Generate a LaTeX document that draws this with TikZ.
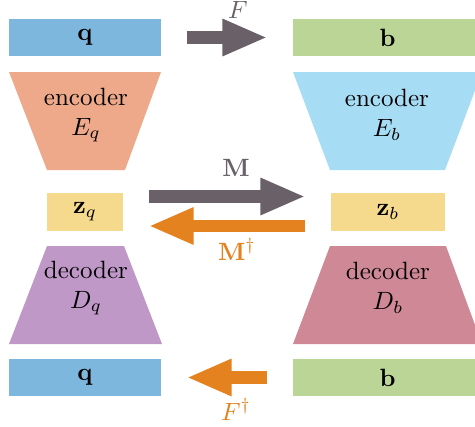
\documentclass[tikz,border=0pt]{standalone}
\usepackage{amsmath}
\usepackage{amssymb}
\usepackage{xcolor}
\usepackage{tikz}
\usetikzlibrary{arrows.meta}

\definecolor{qblue}{HTML}{7EB7DE}
\definecolor{bgreen}{HTML}{BBD597}
\definecolor{encq}{HTML}{EDA98A}
\definecolor{encb}{HTML}{A6DDF4}
\definecolor{zyellow}{HTML}{F5D98C}
\definecolor{decq}{HTML}{BF98C8}
\definecolor{decb}{HTML}{CF8896}
\definecolor{arrgray}{HTML}{6A6068}
\definecolor{arrorange}{HTML}{E3821F}

\begin{document}
\begin{tikzpicture}[
    x=0.4pt, y=-0.4pt,
    every box/.style={rectangle, inner sep=0pt, minimum height=15pt},
    q box/.style={every box, fill=qblue, minimum width=60.8pt},
    b box/.style={every box, fill=bgreen, minimum width=75.6pt},
    z box/.style={every box, fill=zyellow},
    coder text/.style={align=center, inner sep=0pt},
    fat arrow/.style={line width=5pt, -{Triangle[length=18pt, width=13.6pt]},
                      shorten <=10pt, shorten >=10pt},
    map label/.style={anchor=base, inner sep=0pt}
]
    \useasboundingbox (0,0) rectangle (475,427);
    \clip (0,0) rectangle (475,427);

    % input and output boxes
    \node[q box] (q-top) at (85,37.5) {$\mathbf{q}$};
    \node[b box] (b-top) at (387.5,37.5) {$\mathbf{b}$};
    \node[q box] (q-bot) at (85,377.5) {$\mathbf{q}$};
    \node[b box] (b-bot) at (387.5,377.5) {$\mathbf{b}$};

    % encoders and decoders
    \fill[encq] (9,72) -- (161,72) -- (125,170) -- (47,170) -- cycle;
    \fill[encb] (293,72) -- (482,72) -- (445,170) -- (330,170) -- cycle;
    \fill[decq] (47,246) -- (124,246) -- (162,344) -- (9,344) -- cycle;
    \fill[decb] (330,246) -- (446,246) -- (482,344) -- (293,344) -- cycle;
    \node[coder text] (enc-q) at (86,115) {encoder\\$E_q$};
    \node[coder text] (enc-b) at (387,115) {encoder\\$E_b$};
    \node[coder text] (dec-q) at (86,288) {decoder\\$D_q$};
    \node[coder text] (dec-b) at (388,288) {decoder\\$D_b$};

    % latent codes
    \node[z box, minimum width=30.4pt] (z-q) at (85,212) {$\mathbf{z}_q$};
    \node[z box, minimum width=45.6pt] (z-b) at (388,212) {$\mathbf{z}_b$};

    % maps
    \draw[fat arrow, arrgray] (q-top) -- (b-top);
    \draw[fat arrow, arrorange] (b-bot) -- (q-bot);
    \draw[fat arrow, arrgray] ([yshift=6.2pt]z-q.east) -- ([yshift=6.2pt]z-b.west);
    \draw[fat arrow, arrorange] ([yshift=-5.6pt]z-b.west) -- ([yshift=-5.6pt]z-q.east);

    \node[map label, text=arrgray] (lab-F) at (238,18) {$F$};
    \node[map label, text=arrgray] (lab-M) at (236,176) {$\mathbf{M}$};
    \node[map label, text=arrorange] (lab-Md) at (237,260) {$\mathbf{M}^\dagger$};
    \node[map label, text=arrorange] (lab-Fd) at (236,420) {$F^\dagger$};
\end{tikzpicture}
\end{document}
